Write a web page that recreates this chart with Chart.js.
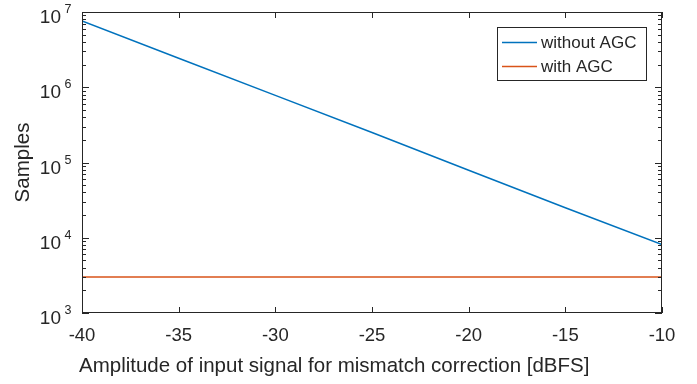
<!DOCTYPE html>
<html>
<head>
<meta charset="utf-8">
<script src="https://cdn.jsdelivr.net/npm/chart.js@4"></script>
<style>
  html, body { margin: 0; padding: 0; background: #fff; }
  #wrap { width: 697px; height: 384px; }
</style>
</head>
<body>
<div id="wrap"><canvas id="c" width="697" height="384"></canvas></div>
<script>
const amplitude = [-40, -35, -30, -25, -20, -15, -10];
const withoutAgc = [7.6e6, 2.43e6, 7.8e5, 2.5e5, 7.9e4, 2.5e4, 8.1e3];
const withAgc = [3000, 3000, 3000, 3000, 3000, 3000, 3000];
const xTicks = [-40, -35, -30, -25, -20, -15, -10];
const yDecades = [3, 4, 5, 6, 7];
const seriesNames = ['without AGC', 'with AGC'];

const FONT = '"Liberation Sans", Arial, Helvetica, sans-serif';
const AXIS = '#262626';
const BLUE = '#0072BD';
const ORANGE = '#D95319';

// axes box, ticks, labels and legend drawn MATLAB-style
const matlabAxes = {
  id: 'matlabAxes',
  afterDatasetsDraw(chart) {
    const { ctx, chartArea: a } = chart;
    const xs = chart.scales.x, ys = chart.scales.y;
    ctx.save();
    ctx.strokeStyle = AXIS;
    ctx.lineWidth = 1;
    ctx.strokeRect(a.left + 0.5, a.top + 0.5, a.right - a.left - 1, a.bottom - a.top - 1);

    ctx.beginPath();
    xTicks.forEach(v => {
      const px = Math.round(xs.getPixelForValue(v)) + 0.5;
      ctx.moveTo(px, a.bottom); ctx.lineTo(px, a.bottom - 6);
      ctx.moveTo(px, a.top); ctx.lineTo(px, a.top + 6);
    });
    yDecades.forEach((d, i) => {
      const py = Math.round(ys.getPixelForValue(Math.pow(10, d))) + 0.5;
      ctx.moveTo(a.left, py); ctx.lineTo(a.left + 7, py);
      ctx.moveTo(a.right, py); ctx.lineTo(a.right - 7, py);
      if (i < yDecades.length - 1) {
        for (let m = 2; m <= 9; m++) {
          const pm = Math.round(ys.getPixelForValue(m * Math.pow(10, d))) + 0.5;
          ctx.moveTo(a.left, pm); ctx.lineTo(a.left + 4, pm);
          ctx.moveTo(a.right, pm); ctx.lineTo(a.right - 4, pm);
        }
      }
    });
    ctx.stroke();

    ctx.fillStyle = AXIS;
    ctx.font = '18.5px ' + FONT;
    ctx.textAlign = 'center';
    ctx.textBaseline = 'alphabetic';
    xTicks.forEach(v => ctx.fillText(String(v), xs.getPixelForValue(v), 341));

    yDecades.forEach(d => {
      const py = ys.getPixelForValue(Math.pow(10, d));
      ctx.font = '19px ' + FONT;
      ctx.textAlign = 'right';
      ctx.fillText('10', 61, py + 11);
      ctx.font = '12.5px ' + FONT;
      ctx.textAlign = 'left';
      ctx.fillText(String(d), 64.5, py + 1);
    });

    ctx.font = '20.5px ' + FONT;
    ctx.textAlign = 'left';
    ctx.fillText('Amplitude of input signal for mismatch correction [dBFS]', 79, 372);

    ctx.save();
    ctx.translate(29, 162.5);
    ctx.rotate(-Math.PI / 2);
    ctx.textAlign = 'center';
    ctx.fillText('Samples', 0, 0);
    ctx.restore();

    // legend
    ctx.fillStyle = '#fff';
    ctx.fillRect(497.5, 27.5, 149, 53);
    ctx.strokeStyle = AXIS;
    ctx.strokeRect(497.5, 27.5, 149, 53);
    const colors = [BLUE, ORANGE];
    ctx.font = '17px ' + FONT;
    ctx.textAlign = 'left';
    seriesNames.forEach((name, i) => {
      const ly = 42.5 + i * 24;
      ctx.strokeStyle = colors[i];
      ctx.lineWidth = 1.5;
      ctx.beginPath(); ctx.moveTo(502, ly); ctx.lineTo(537, ly); ctx.stroke();
      ctx.fillStyle = AXIS;
      ctx.fillText(name, 541, 48 + i * 24);
    });
    ctx.restore();
  }
};

new Chart(document.getElementById('c'), {
  type: 'line',
  data: {
    datasets: [
      {
        label: seriesNames[0],
        data: amplitude.map((x, i) => ({ x, y: withoutAgc[i] })),
        borderColor: BLUE,
        borderWidth: 1.5,
        pointRadius: 0,
        tension: 0,
      },
      {
        label: seriesNames[1],
        data: amplitude.map((x, i) => ({ x, y: withAgc[i] })),
        borderColor: ORANGE,
        borderWidth: 1.5,
        pointRadius: 0,
        tension: 0,
      },
    ],
  },
  options: {
    responsive: false,
    animation: false,
    layout: { padding: { left: 82, right: 35, top: 12, bottom: 71 } },
    scales: {
      x: { type: 'linear', min: -40, max: -10, display: false },
      y: { type: 'logarithmic', min: 1000, max: 1e7, display: false },
    },
    plugins: { legend: { display: false }, tooltip: { enabled: false } },
  },
  plugins: [matlabAxes],
});
</script>
</body>
</html>
